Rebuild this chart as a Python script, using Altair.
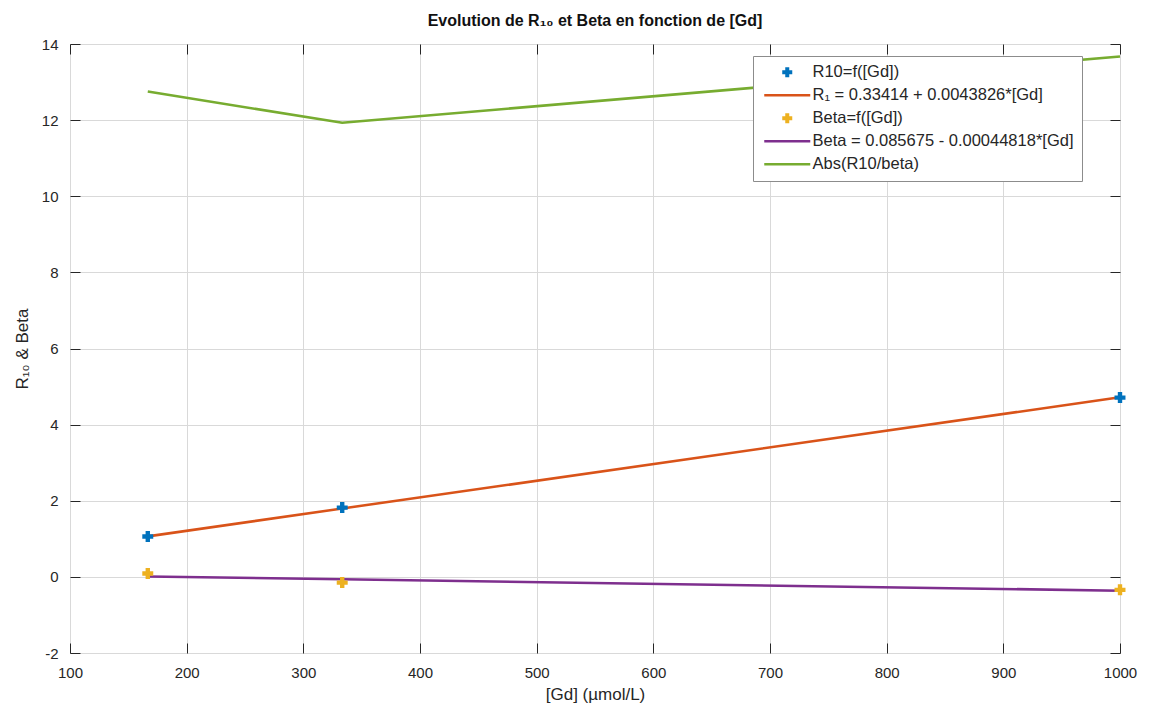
import altair as alt
import pandas as pd

# ---- data ----
gd = [166.67, 333.33, 1000]
r10 = [1.06, 1.82, 4.71]
beta = [0.09, -0.15, -0.34]
r1_fit = [1.064, 1.795, 4.717]
beta_fit = [0.011, -0.064, -0.363]
abs_ratio = [12.75, 11.93, 13.67]

series_names = [
    "R10=f([Gd])",
    "R₁ = 0.33414 + 0.0043826*[Gd]",
    "Beta=f([Gd])",
    "Beta = 0.085675 - 0.00044818*[Gd]",
    "Abs(R10/beta)",
]
series_colors = ["#0072BD", "#D95319", "#EDB120", "#7E2F8E", "#77AC30"]
x_ticks = list(range(100, 1001, 100))
y_ticks = list(range(-2, 15, 2))

LINE_PATH = "M-4.6,-0.27L4.6,-0.27L4.6,0.27L-4.6,0.27Z"
series_shapes = ["cross", LINE_PATH, "cross", LINE_PATH, LINE_PATH]

pts = pd.DataFrame({
    "gd": gd + gd,
    "val": r10 + beta,
    "series": [series_names[0]] * 3 + [series_names[2]] * 3,
})
fit_r1 = pd.DataFrame({"gd": gd, "val": r1_fit})
fit_beta = pd.DataFrame({"gd": gd, "val": beta_fit})
ratio = pd.DataFrame({"gd": gd, "val": abs_ratio})

FONT = "Liberation Sans"
xscale = alt.Scale(domain=[100, 1000], nice=False, zero=False)
yscale = alt.Scale(domain=[-2, 14], nice=False, zero=False)

main_x_axis = alt.Axis(
    orient="bottom", values=x_ticks, ticks=False, domain=False, grid=True,
    gridColor="#d9d9d9", gridWidth=1, labelPadding=12, labelFontSize=15,
    labelFont=FONT, labelColor="#262626", title="[Gd] (µmol/L)",
    labelExpr="'' + datum.value",
    titleFont=FONT, titleFontSize=17, titleFontWeight="normal",
    titleColor="#262626", titlePadding=6, labelFlush=False,
)
main_y_axis = alt.Axis(
    orient="left", values=y_ticks, ticks=False, domain=False, grid=True,
    gridColor="#d9d9d9", gridWidth=1, labelPadding=12, labelFontSize=15,
    labelFont=FONT, labelColor="#262626", title="R₁₀ & Beta",
    labelExpr="'' + datum.value",
    titleFont=FONT, titleFontSize=17, titleFontWeight="normal",
    titleColor="#262626", titlePadding=10, labelFlush=False,
)

X = alt.X("gd:Q", scale=xscale, axis=main_x_axis)
Y = alt.Y("val:Q", scale=yscale, axis=main_y_axis)


def line_layer(df, color):
    return alt.Chart(df).mark_line(color=color, strokeWidth=2.6).encode(x=X, y=Y)


ratio_line = line_layer(ratio, series_colors[4])
r1_line = line_layer(fit_r1, series_colors[1])
beta_line = line_layer(fit_beta, series_colors[3])

legend_kw = dict(
    title=None, orient="none", legendX=683, legendY=12,
    labelFont=FONT, labelFontSize=16.5, labelColor="#262626",
    labelLimit=500, symbolSize=100, symbolOffset=18, labelOffset=17,
    symbolStrokeWidth=0, rowPadding=6, padding=8,
    strokeColor="#8c8c8c", fillColor="white", cornerRadius=0,
)

points = alt.Chart(pts).mark_point(filled=True, size=120, opacity=1).encode(
    x=X,
    y=Y,
    color=alt.Color(
        "series:N",
        scale=alt.Scale(domain=series_names, range=series_colors),
        legend=alt.Legend(**legend_kw),
    ),
    shape=alt.Shape(
        "series:N",
        scale=alt.Scale(domain=series_names, range=series_shapes),
        legend=alt.Legend(**legend_kw),
    ),
)

main = alt.layer(ratio_line, r1_line, beta_line, points)


def tick_layer(xorient, yorient):
    return alt.Chart(ratio).mark_point(opacity=0).encode(
        x=alt.X("gd:Q", scale=xscale, axis=alt.Axis(
            orient=xorient, values=x_ticks, labels=False, domain=False,
            grid=False, ticks=True, tickSize=10, tickColor="#262626",
            tickWidth=1, offset=-10, title=None)),
        y=alt.Y("val:Q", scale=yscale, axis=alt.Axis(
            orient=yorient, values=y_ticks, labels=False, domain=False,
            grid=False, ticks=True, tickSize=10, tickColor="#262626",
            tickWidth=1, offset=-10, title=None)),
    )


chart = alt.layer(
    main, tick_layer("top", "right"), tick_layer("bottom", "left")
).resolve_axis(x="independent", y="independent").properties(
    width=1050, height=609,
    title=alt.TitleParams(
        "Evolution de R₁₀ et Beta en fonction de [Gd]", font=FONT,
        fontSize=16, fontWeight="bold", color="#111111", anchor="middle",
        offset=8,
    ),
).configure_view(stroke="#262626", strokeWidth=1).configure(background="white")

chart.save("out.html", embed_options={"renderer": "svg", "actions": False})
